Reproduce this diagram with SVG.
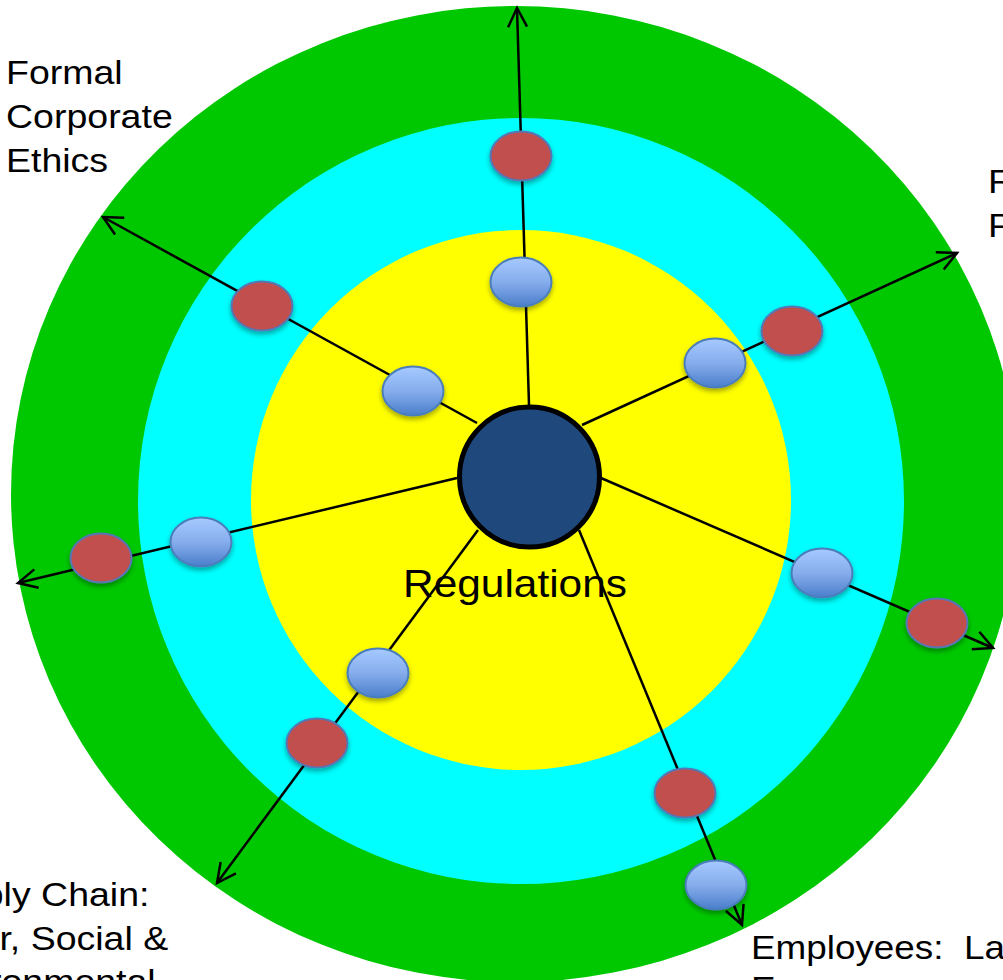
<svg xmlns="http://www.w3.org/2000/svg" width="1003" height="980" viewBox="0 0 1003 980">
  <style>
    .lbl { font-family: "Liberation Sans", Arial, Helvetica, sans-serif; fill: #000; }
    .spoke { stroke: #000; stroke-width: 2.5; fill: none; marker-end: url(#arrow); }
    .blue { fill: url(#blueGrad); stroke: #4a7ebb; stroke-width: 2; filter: url(#soft); }
    .red { fill: #c0504d; stroke: #5676b4; stroke-width: 2; filter: url(#soft); }
  </style>
  <defs>
    <linearGradient id="blueGrad" x1="0" y1="0" x2="0" y2="1">
      <stop offset="0" stop-color="#a6c9ff"/>
      <stop offset="0.5" stop-color="#86adec"/>
      <stop offset="1" stop-color="#4a7ecb"/>
    </linearGradient>
    <filter id="soft" x="-30%" y="-30%" width="160%" height="170%">
      <feDropShadow dx="0" dy="3" stdDeviation="2.5" flood-color="#000" flood-opacity="0.35"/>
    </filter>
    <marker id="arrow" markerUnits="userSpaceOnUse" markerWidth="26" markerHeight="26" viewBox="-22 -13 26 26" refX="0" refY="0" orient="auto">
      <path d="M-19,-9.5 L0,0 L-19,9.5" fill="none" stroke="#000" stroke-width="2.5"/>
    </marker>
  </defs>

  <!-- concentric bands -->
  <g id="rings">
    <ellipse cx="515" cy="494" rx="504" ry="488" fill="#00c800"/>
    <circle cx="521" cy="501" r="383" fill="#00ffff"/>
    <circle cx="521" cy="500" r="270" fill="#ffff00"/>
  </g>

  <!-- spokes from the hub out to the outer band -->
  <g id="connectors">
    <line class="spoke" x1="529" y1="405" x2="517" y2="8"/>
    <line class="spoke" x1="477" y1="423" x2="103" y2="217"/>
    <line class="spoke" x1="582" y1="425" x2="957" y2="253"/>
    <line class="spoke" x1="457" y1="478" x2="18" y2="583"/>
    <line class="spoke" x1="601" y1="478" x2="993" y2="648"/>
    <line class="spoke" x1="478" y1="530" x2="217" y2="883"/>
    <line class="spoke" x1="579" y1="530" x2="742" y2="925"/>
  </g>

  <g id="hub">
    <circle cx="529.5" cy="477" r="70" fill="#1f497d" stroke="#000" stroke-width="5"/>
  </g>

  <!-- inner (blue) nodes -->
  <g id="node-b1"><ellipse class="blue" cx="521" cy="282" rx="30.5" ry="24.5"/></g>
  <g id="node-b2"><ellipse class="blue" cx="413" cy="391" rx="30.5" ry="24.5"/></g>
  <g id="node-b3"><ellipse class="blue" cx="715" cy="363" rx="30.5" ry="24.5"/></g>
  <g id="node-b4"><ellipse class="blue" cx="201" cy="542" rx="30.5" ry="24.5"/></g>
  <g id="node-b5"><ellipse class="blue" cx="822" cy="573" rx="30.5" ry="24.5"/></g>
  <g id="node-b6"><ellipse class="blue" cx="378" cy="673" rx="30.5" ry="24.5"/></g>
  <g id="node-b7"><ellipse class="blue" cx="716" cy="885" rx="30.5" ry="24.5"/></g>

  <!-- outer (red) nodes -->
  <g id="node-r1"><ellipse class="red" cx="521" cy="156" rx="30.5" ry="24.5"/></g>
  <g id="node-r2"><ellipse class="red" cx="262" cy="306" rx="30.5" ry="24.5"/></g>
  <g id="node-r3"><ellipse class="red" cx="792" cy="331" rx="30.5" ry="24.5"/></g>
  <g id="node-r4"><ellipse class="red" cx="101" cy="558" rx="30.5" ry="24.5"/></g>
  <g id="node-r5"><ellipse class="red" cx="937" cy="623" rx="30.5" ry="24.5"/></g>
  <g id="node-r6"><ellipse class="red" cx="317" cy="743" rx="30.5" ry="24.5"/></g>
  <g id="node-r7"><ellipse class="red" cx="685" cy="793" rx="30.5" ry="24.5"/></g>

  <!-- labels -->
  <g id="label-center">
    <text class="lbl" x="403" y="597" font-size="38.5" textLength="224" lengthAdjust="spacingAndGlyphs">Regulations</text>
  </g>
  <g id="label-ethics" transform="translate(6,0) scale(1.12,1)">
    <text class="lbl" font-size="33.5">
      <tspan x="0" y="84.5">Formal</tspan>
      <tspan x="0" y="128.5">Corporate</tspan>
      <tspan x="0" y="172.5">Ethics</tspan>
    </text>
  </g>
  <g id="label-right" transform="translate(988,0) scale(1.12,1)">
    <text class="lbl" font-size="33.5">
      <tspan x="0" y="193">R</tspan>
      <tspan x="0" y="237">P</tspan>
    </text>
  </g>
  <g id="label-supply" transform="translate(-84,0) scale(1.12,1)">
    <text class="lbl" font-size="33.5">
      <tspan x="0" y="906.5">Supply Chain:</tspan>
      <tspan x="0" y="950">Labor, Social &amp;</tspan>
      <tspan x="0" y="993.5">Environmental</tspan>
    </text>
  </g>
  <g id="label-employees" transform="translate(751,0) scale(1.1,1)">
    <text class="lbl" font-size="33.5">
      <tspan x="0" y="959.5" xml:space="preserve">Employees:  La</tspan>
      <tspan x="0" y="1000">E</tspan>
    </text>
  </g>
</svg>
